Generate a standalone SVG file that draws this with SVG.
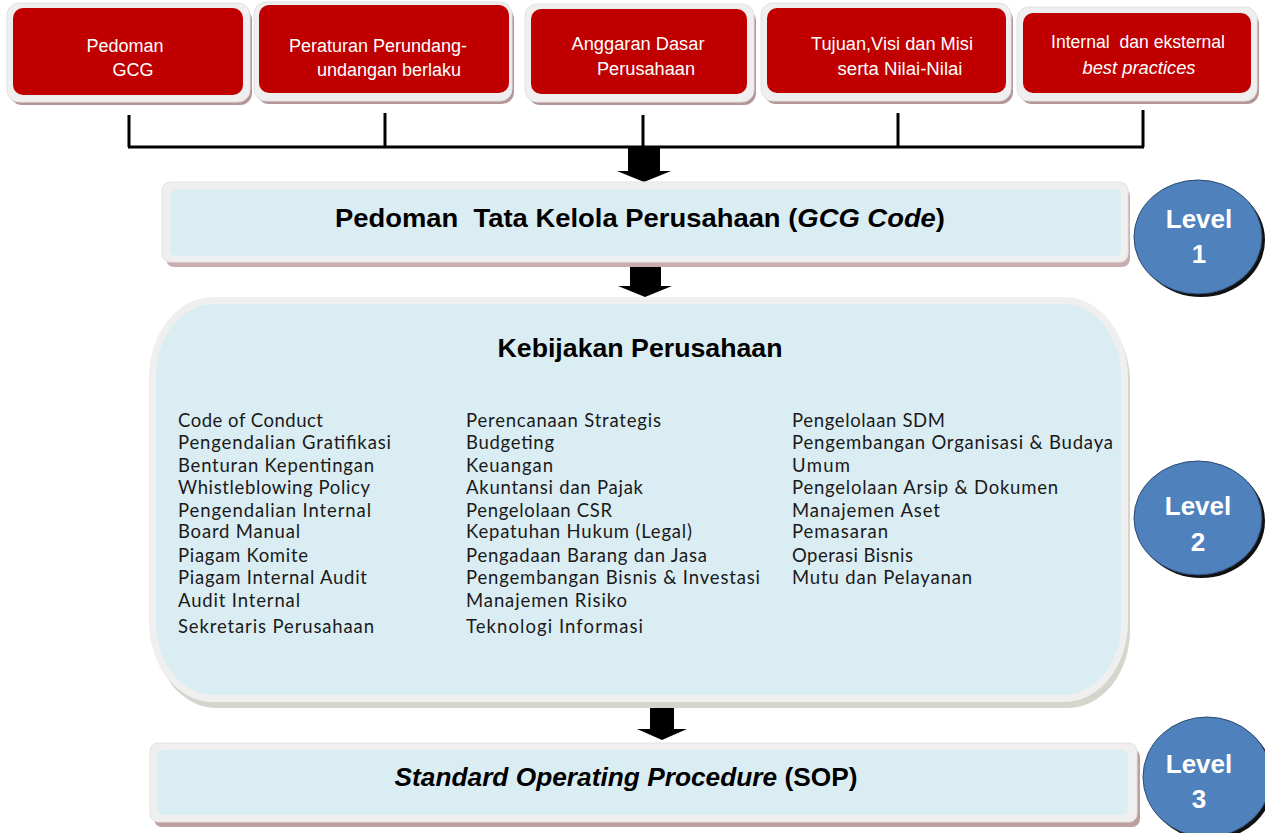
<svg xmlns="http://www.w3.org/2000/svg" width="1265" height="833" viewBox="0 0 1265 833">
<style>
.frame{fill:#efefef;stroke:#e2e2e2;stroke-width:1}
.red{fill:#c00000}
.rshadow{fill:#b59595}
.wt{font-family:"Liberation Sans",Arial,sans-serif;font-size:18px;fill:#ffffff;text-anchor:middle}
.wt2{font-family:"Liberation Sans",Arial,sans-serif;font-size:18px;fill:#ffffff;text-anchor:middle}
.blue{fill:#daedf3}
.hd{font-family:"Liberation Sans",Arial,sans-serif;font-size:26px;font-weight:bold;fill:#000;text-anchor:middle}
.li{font-family:Lato,"Open Sans",sans-serif;font-size:18.5px;fill:#1a1a1a}
.lvl{fill:#4f81bd;stroke:#2b4a70;stroke-width:1}
.lsh{fill:#111}
.lt{font-family:"Liberation Sans",Arial,sans-serif;font-size:26px;font-weight:bold;fill:#ffffff;text-anchor:middle}
.conn{stroke:#000;stroke-width:3;fill:none}
.arr{fill:#000}
</style>

<g id="src1">
<rect class="rshadow" x="10" y="8" width="242" height="97" rx="12"/>
<rect class="frame" x="7" y="3" width="243" height="99" rx="12"/>
<rect class="red" x="13" y="8" width="230" height="87" rx="10"/>
<text class="wt" x="125" y="52">Pedoman</text>
<text class="wt" x="133" y="76">GCG</text>
</g>
<g id="src2">
<rect class="rshadow" x="257" y="7" width="257" height="97" rx="12"/>
<rect class="frame" x="254" y="2" width="258" height="99" rx="12"/>
<rect class="red" x="259" y="5" width="250" height="88" rx="10"/>
<text class="wt" x="378" y="52">Peraturan Perundang-</text>
<text class="wt" x="389" y="76">undangan berlaku</text>
</g>
<g id="src3">
<rect class="rshadow" x="528" y="9" width="228" height="96" rx="12"/>
<rect class="frame" x="525" y="4" width="229" height="98" rx="12"/>
<rect class="red" x="531" y="9" width="216" height="85" rx="10"/>
<text class="wt2" x="638" y="50" textLength="133" lengthAdjust="spacingAndGlyphs">Anggaran Dasar</text>
<text class="wt2" x="646" y="75" textLength="98" lengthAdjust="spacingAndGlyphs">Perusahaan</text>
</g>
<g id="src4">
<rect class="rshadow" x="764" y="8" width="249" height="96" rx="12"/>
<rect class="frame" x="761" y="3" width="250" height="98" rx="12"/>
<rect class="red" x="767" y="8" width="239" height="85" rx="10"/>
<text class="wt2" x="892" y="50" textLength="162" lengthAdjust="spacingAndGlyphs">Tujuan,Visi dan Misi</text>
<text class="wt2" x="900" y="75" textLength="125" lengthAdjust="spacingAndGlyphs">serta Nilai-Nilai</text>
</g>
<g id="src5">
<rect class="rshadow" x="1020" y="12" width="239" height="92" rx="12"/>
<rect class="frame" x="1017" y="7" width="240" height="94" rx="12"/>
<rect class="red" x="1023" y="13" width="228" height="80" rx="10"/>
<text class="wt2" x="1138" y="48" textLength="174" lengthAdjust="spacingAndGlyphs" xml:space="preserve">Internal  dan eksternal</text>
<text class="wt2" x="1139" y="74" font-style="italic" textLength="113" lengthAdjust="spacingAndGlyphs">best practices</text>
</g>

<g id="connectors">
<path class="conn" d="M129,115 V147 M385,113 V147 M643,115 V147 M898,113 V147 M1143,110 V147 M128,147 H1144"/>
<polygon class="arr" points="628,147 660,147 660,171 671,171 644,182 617,171 628,171"/>
<polygon class="arr" points="630,264 661,264 661,286 672,286 645,297 618,286 630,286"/>
<polygon class="arr" points="650,706 674,706 674,729 687,729 662,740 637,729 650,729"/>
</g>

<g id="level1-box">
<rect x="166" y="188" width="964" height="79" rx="8" fill="#c9aeae"/>
<rect class="frame" x="162" y="182" width="966" height="80" rx="8"/>
<rect class="blue" x="170" y="189" width="951" height="67" rx="6"/>
<text class="hd" x="640" y="227" font-size="26.5" textLength="610" lengthAdjust="spacingAndGlyphs" xml:space="preserve">Pedoman  Tata Kelola Perusahaan (<tspan font-style="italic">GCG Code</tspan>)</text>
</g>

<g id="level2-box">
<rect x="154" y="304" width="976" height="404" rx="62" ry="78" fill="#d3d6ca"/>
<rect x="149" y="297" width="979" height="405" rx="64" ry="80" fill="#efefef"/>
<rect class="blue" x="156" y="304" width="965" height="391" rx="58" ry="72"/>
<text class="hd" x="640" y="357" font-size="26.5" textLength="285" lengthAdjust="spacingAndGlyphs">Kebijakan Perusahaan</text>
<text class="li" x="178" y="427" textLength="145">Code of Conduct</text>
<text class="li" x="178" y="449" textLength="213">Pengendalian Gratifikasi</text>
<text class="li" x="178" y="472" textLength="196">Benturan Kepentingan</text>
<text class="li" x="178" y="494" textLength="192">Whistleblowing Policy</text>
<text class="li" x="178" y="517" textLength="193">Pengendalian Internal</text>
<text class="li" x="178" y="538" textLength="122">Board Manual</text>
<text class="li" x="178" y="562" textLength="130">Piagam Komite</text>
<text class="li" x="178" y="584" textLength="189">Piagam Internal Audit</text>
<text class="li" x="178" y="607" textLength="122">Audit Internal</text>
<text class="li" x="178" y="633" textLength="196">Sekretaris Perusahaan</text>
<text class="li" x="466" y="427" textLength="195">Perencanaan Strategis</text>
<text class="li" x="466" y="449" textLength="88">Budgeting</text>
<text class="li" x="466" y="472" textLength="87">Keuangan</text>
<text class="li" x="466" y="494" textLength="177">Akuntansi dan Pajak</text>
<text class="li" x="466" y="517" textLength="146">Pengelolaan CSR</text>
<text class="li" x="466" y="538" textLength="226">Kepatuhan Hukum (Legal)</text>
<text class="li" x="466" y="562" textLength="241">Pengadaan Barang dan Jasa</text>
<text class="li" x="466" y="584" textLength="294">Pengembangan Bisnis &amp; Investasi</text>
<text class="li" x="466" y="607" textLength="161">Manajemen Risiko</text>
<text class="li" x="466" y="633" textLength="177">Teknologi Informasi</text>
<text class="li" x="792" y="427" textLength="153">Pengelolaan SDM</text>
<text class="li" x="792" y="449" textLength="321">Pengembangan Organisasi &amp; Budaya</text>
<text class="li" x="792" y="472" textLength="58">Umum</text>
<text class="li" x="792" y="494" textLength="266">Pengelolaan Arsip &amp; Dokumen</text>
<text class="li" x="792" y="517" textLength="148">Manajemen Aset</text>
<text class="li" x="792" y="538" textLength="96">Pemasaran</text>
<text class="li" x="792" y="562" textLength="121">Operasi Bisnis</text>
<text class="li" x="792" y="584" textLength="180">Mutu dan Pelayanan</text>
</g>

<g id="level3-box">
<rect x="154" y="749" width="986" height="78" rx="8" fill="#bf9f9c"/>
<rect class="frame" x="150" y="743" width="987" height="79" rx="8"/>
<rect class="blue" x="157" y="750" width="971" height="65" rx="6"/>
<text class="hd" x="626" y="786" textLength="463" lengthAdjust="spacingAndGlyphs"><tspan font-style="italic">Standard Operating Procedure</tspan> (SOP)</text>
</g>

<g id="level1">
<ellipse class="lsh" cx="1201" cy="240" rx="64" ry="57"/>
<ellipse class="lvl" cx="1198" cy="237" rx="64" ry="57"/>
<text class="lt" x="1199" y="228">Level</text>
<text class="lt" x="1199" y="263">1</text>
</g>
<g id="level2">
<ellipse class="lsh" cx="1201" cy="521" rx="64" ry="57"/>
<ellipse class="lvl" cx="1198" cy="518" rx="64" ry="57"/>
<text class="lt" x="1198" y="515">Level</text>
<text class="lt" x="1198" y="551">2</text>
</g>
<g id="level3">
<ellipse class="lsh" cx="1210" cy="780" rx="64" ry="60"/>
<ellipse class="lvl" cx="1207" cy="777" rx="64" ry="60"/>
<text class="lt" x="1199" y="773">Level</text>
<text class="lt" x="1199" y="808">3</text>
</g>
</svg>
